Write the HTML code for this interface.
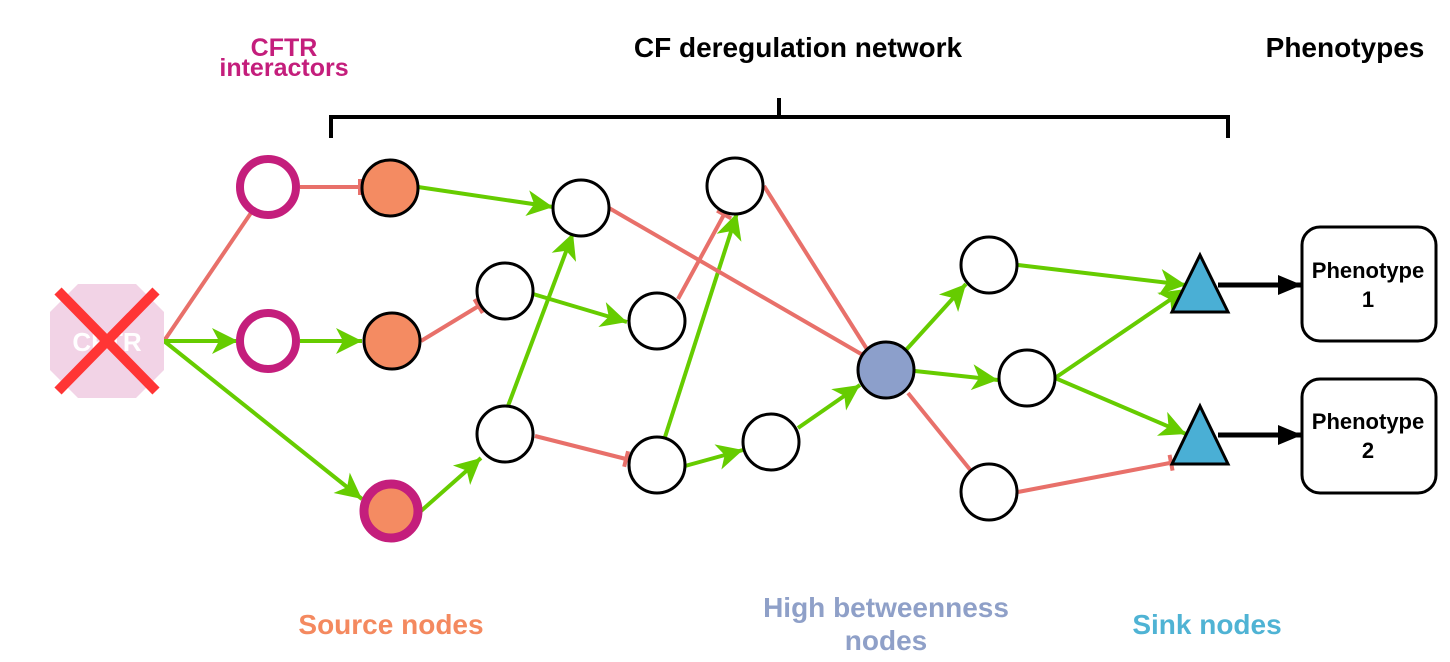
<!DOCTYPE html>
<html><head><style>body{margin:0;background:#fff}svg{display:block}text{font-family:"Liberation Sans",Arial,sans-serif;font-weight:bold}</style></head>
<body>
<svg width="1450" height="662" viewBox="0 0 1450 662" xmlns="http://www.w3.org/2000/svg">
<defs>
<marker id="ga" markerUnits="userSpaceOnUse" markerWidth="30" markerHeight="30" viewBox="-28 -15 30 30" refX="0" refY="0" orient="auto"><path d="M0,0 L-26,-13 L-19,0 L-26,13 Z" fill="#66cc00"/></marker>
<marker id="ba" markerUnits="userSpaceOnUse" markerWidth="30" markerHeight="30" viewBox="-28 -15 30 30" refX="0" refY="0" orient="auto"><path d="M0,0 L-24,-10 L-24,10 Z" fill="#000"/></marker>
<marker id="ri" markerUnits="userSpaceOnUse" markerWidth="12" markerHeight="20" viewBox="-8 -10 12 20" refX="0" refY="0" orient="auto"><rect x="-6" y="-8" width="4" height="16" fill="#e8706a"/></marker>
</defs>
<!-- titles -->
<text x="284" y="56" font-size="25" fill="#c41e7c" text-anchor="middle">CFTR</text>
<text x="284" y="76" font-size="25" fill="#c41e7c" text-anchor="middle">interactors</text>
<text x="798" y="57" font-size="28" fill="#000" text-anchor="middle">CF deregulation network</text>
<text x="1345" y="57" font-size="28" fill="#000" text-anchor="middle">Phenotypes</text>
<text x="391" y="634" font-size="28" fill="#f4895f" text-anchor="middle">Source nodes</text>
<text x="886" y="617" font-size="28" fill="#8fa0c8" text-anchor="middle">High betweenness</text>
<text x="886" y="650" font-size="28" fill="#8fa0c8" text-anchor="middle">nodes</text>
<text x="1207" y="634" font-size="28" fill="#4fb3d4" text-anchor="middle">Sink nodes</text>
<!-- bracket -->
<path d="M331,138 V117 H1228 V138 M779,117 V98" stroke="#000" stroke-width="4" fill="none"/>
<!-- edges -->
<g stroke-width="4" fill="none">
<line x1="164" y1="341" x2="255" y2="207" stroke="#e8706a" marker-end="url(#ri)"/>
<line x1="164" y1="341" x2="238" y2="341" stroke="#66cc00" marker-end="url(#ga)"/>
<line x1="164" y1="341" x2="362" y2="499" stroke="#66cc00" marker-end="url(#ga)"/>
<line x1="300" y1="187" x2="364" y2="187" stroke="#e8706a" marker-end="url(#ri)"/>
<line x1="300" y1="341" x2="362" y2="341" stroke="#66cc00" marker-end="url(#ga)"/>
<line x1="418" y1="187" x2="553" y2="207" stroke="#66cc00" marker-end="url(#ga)"/>
<line x1="421" y1="341" x2="482" y2="304" stroke="#e8706a" marker-end="url(#ri)"/>
<line x1="421" y1="511" x2="481" y2="458" stroke="#66cc00" marker-end="url(#ga)"/>
<line x1="533" y1="294" x2="627" y2="322" stroke="#66cc00" marker-end="url(#ga)"/>
<line x1="508" y1="406" x2="573" y2="233" stroke="#66cc00" marker-end="url(#ga)"/>
<line x1="535" y1="436" x2="630" y2="460" stroke="#e8706a" marker-end="url(#ri)"/>
<line x1="678" y1="299" x2="726" y2="211" stroke="#e8706a" marker-end="url(#ri)"/>
<line x1="665" y1="437" x2="737" y2="213" stroke="#66cc00" marker-end="url(#ga)"/>
<line x1="685" y1="466" x2="743" y2="450" stroke="#66cc00" marker-end="url(#ga)"/>
<line x1="609" y1="208" x2="868" y2="358" stroke="#e8706a" marker-end="url(#ri)"/>
<line x1="764" y1="186" x2="870" y2="354" stroke="#e8706a" marker-end="url(#ri)"/>
<line x1="798" y1="428" x2="860" y2="385" stroke="#66cc00" marker-end="url(#ga)"/>
<line x1="906" y1="350" x2="966" y2="284" stroke="#66cc00" marker-end="url(#ga)"/>
<line x1="915" y1="371" x2="998" y2="380" stroke="#66cc00" marker-end="url(#ga)"/>
<line x1="908" y1="393" x2="976" y2="477" stroke="#e8706a" marker-end="url(#ri)"/>
<line x1="1018" y1="265" x2="1186" y2="285" stroke="#66cc00" marker-end="url(#ga)"/>
<line x1="1055" y1="378" x2="1186" y2="289" stroke="#66cc00" marker-end="url(#ga)"/>
<line x1="1055" y1="378" x2="1186" y2="434" stroke="#66cc00" marker-end="url(#ga)"/>
<line x1="1018" y1="492" x2="1175" y2="462" stroke="#e8706a" marker-end="url(#ri)"/>
<line x1="1218" y1="285" x2="1302" y2="285" stroke="#000" stroke-width="5" marker-end="url(#ba)"/>
<line x1="1218" y1="435" x2="1302" y2="435" stroke="#000" stroke-width="5" marker-end="url(#ba)"/>
</g>
<!-- CFTR -->
<polygon points="78,284 136,284 164,312 164,370 136,398 78,398 50,370 50,312" fill="#f2d3e6"/>
<text x="107" y="351" font-size="26" fill="#fff" text-anchor="middle">CFTR</text>
<path d="M58,291 L156,391 M156,291 L58,391" stroke="#ff3535" stroke-width="10"/>
<!-- nodes -->
<g stroke="#000" stroke-width="3" fill="#fff">
<circle cx="268" cy="187" r="28" stroke="#c41e7c" stroke-width="8"/>
<circle cx="268" cy="341" r="28" stroke="#c41e7c" stroke-width="8"/>
<circle cx="390" cy="188" r="28" fill="#f48b62"/>
<circle cx="392" cy="341" r="28" fill="#f48b62"/>
<circle cx="391" cy="511" r="27" fill="#f48b62" stroke="#c41e7c" stroke-width="9"/>
<circle cx="581" cy="208" r="28"/>
<circle cx="505" cy="291" r="28"/>
<circle cx="505" cy="434" r="28"/>
<circle cx="657" cy="321" r="28"/>
<circle cx="735" cy="186" r="28"/>
<circle cx="657" cy="465" r="28"/>
<circle cx="771" cy="442" r="28"/>
<circle cx="886" cy="370" r="28" fill="#8c9fcb"/>
<circle cx="989" cy="265" r="28"/>
<circle cx="1027" cy="378" r="28"/>
<circle cx="989" cy="492" r="28"/>
<polygon points="1200,255 1228,312 1172,312" fill="#4aafd5"/>
<polygon points="1200,406 1228,464 1172,464" fill="#4aafd5"/>
<rect x="1302" y="227" width="134" height="114" rx="18"/>
<rect x="1302" y="379" width="134" height="114" rx="18"/>
</g>
<text x="1368" y="278" font-size="22" text-anchor="middle">Phenotype</text>
<text x="1368" y="307" font-size="22" text-anchor="middle">1</text>
<text x="1368" y="429" font-size="22" text-anchor="middle">Phenotype</text>
<text x="1368" y="458" font-size="22" text-anchor="middle">2</text>
</svg>
</body></html>
